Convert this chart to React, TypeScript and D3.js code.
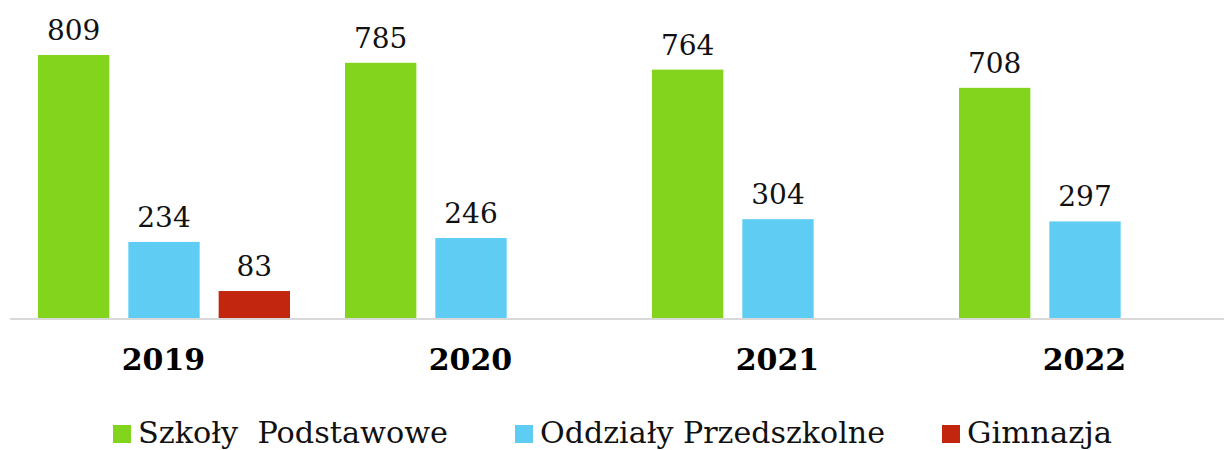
import React, { useEffect, useRef } from 'react'
import * as d3 from 'd3'

const years = ['2019', '2020', '2021', '2022']
const seriesNames = ['Szkoły  Podstawowe', 'Oddziały Przedszkolne', 'Gimnazja']
const szkolyPodstawowe = [809, 785, 764, 708]
const oddzialyPrzedszkolne = [234, 246, 304, 297]
const gimnazja: (number | null)[] = [83, null, null, null]
const colors = ['#82d41c', '#5fcdf3', '#c3260f']

const width = 1224
const height = 450
const font = '"DejaVu Serif", serif'

export default function App() {
  const svgRef = useRef<SVGSVGElement>(null)

  useEffect(() => {
    const svg = d3.select(svgRef.current)
    svg.selectAll('*').remove()

    const values = [szkolyPodstawowe, oddzialyPrzedszkolne, gimnazja]
    const baseline = 318

    const x0 = d3.scaleBand().domain(years).range([10, 1238]).padding(0)
    const x1 = d3.scaleBand<number>()
      .domain([0, 1, 2])
      .range([28, 280])
      .paddingInner(0.21)
      .paddingOuter(0)
    const y = d3.scaleLinear().domain([0, 809]).range([baseline, 55])

    const g = svg.append('g')

    years.forEach((yr, i) => {
      const grp = g.append('g').attr('transform', `translate(${x0(yr)},0)`)
      values.forEach((arr, s) => {
        const v = arr[i]
        if (v == null) return
        grp.append('rect')
          .attr('x', x1(s)!)
          .attr('y', y(v))
          .attr('width', x1.bandwidth())
          .attr('height', baseline - y(v))
          .attr('fill', colors[s])
        grp.append('text')
          .attr('x', x1(s)! + x1.bandwidth() / 2)
          .attr('y', y(v) - 15)
          .attr('text-anchor', 'middle')
          .attr('font-family', font)
          .attr('font-size', 28)
          .attr('fill', '#111')
          .text(v)
      })
    })

    // axis line
    g.append('line')
      .attr('x1', 10).attr('x2', width)
      .attr('y1', baseline + 1).attr('y2', baseline + 1)
      .attr('stroke', '#d9d9d9')
      .attr('stroke-width', 2)

    // year labels
    g.selectAll('text.year')
      .data(years)
      .join('text')
      .attr('class', 'year')
      .attr('x', d => x0(d)! + x0.bandwidth() / 2)
      .attr('y', 370)
      .attr('text-anchor', 'middle')
      .attr('font-family', font)
      .attr('font-weight', 'bold')
      .attr('font-size', 30)
      .attr('fill', '#000')
      .text(d => d)

    // legend (square x, text width)
    const legendX = [113, 515, 942]
    const legendW = [310, 345, 145]
    seriesNames.forEach((name, s) => {
      const lg = g.append('g').attr('transform', `translate(${legendX[s]},0)`)
      lg.append('rect')
        .attr('x', 0).attr('y', 425)
        .attr('width', 18).attr('height', 18)
        .attr('fill', colors[s])
      lg.append('text')
        .attr('x', 25)
        .attr('y', 443)
        .attr('font-family', font)
        .attr('font-size', 30)
        .attr('fill', '#111')
        .attr('textLength', legendW[s])
        .attr('lengthAdjust', 'spacingAndGlyphs')
        .attr('xml:space', 'preserve')
        .style('white-space', 'pre')
        .text(name)
    })
  }, [])

  return (
    <svg
      ref={svgRef}
      width={width}
      height={height}
      style={{ position: 'absolute', left: 0, top: 0, background: '#fff' }}
    />
  )
}
